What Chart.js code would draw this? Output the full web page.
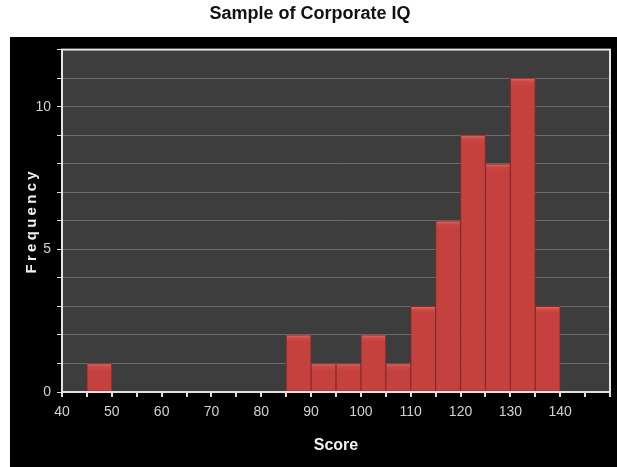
<!DOCTYPE html>
<html>
<head>
<meta charset="utf-8">
<script src="https://cdn.jsdelivr.net/npm/chart.js@4.4.0/dist/chart.umd.min.js"></script>
<style>
  html, body { margin: 0; padding: 0; background: #fff; }
  #wrap { width: 617px; height: 467px; }
</style>
</head>
<body>
<div id="wrap"><canvas id="iq" width="617" height="467"></canvas></div>
<script>
// histogram bins (start of each 5-point bin) and counts
const binStarts = [40, 45, 50, 55, 60, 65, 70, 75, 80, 85, 90, 95, 100, 105, 110, 115, 120, 125, 130, 135];
const counts    = [0, 1, 0, 0, 0, 0, 0, 0, 0, 2, 1, 1, 2, 1, 3, 6, 9, 8, 11, 3];
const binWidth = 5;
const xLabels = [40, 50, 60, 70, 80, 90, 100, 110, 120, 130, 140];
const yLabels = [0, 5, 10];

const points = binStarts.map((s, i) => ({ x: s + binWidth / 2, y: counts[i] }));

// bar fill with a lighter cap at the top of each bar
function barFill(context) {
  const chart = context.chart;
  if (!chart.chartArea || !context.parsed) return '#c6423f';
  const yScale = chart.scales.y;
  const top = yScale.getPixelForValue(context.parsed.y);
  const g = chart.ctx.createLinearGradient(0, top, 0, top + 8);
  g.addColorStop(0, '#e06a65');
  g.addColorStop(0.45, '#cc4744');
  g.addColorStop(1, '#c4413e');
  return g;
}

// black panel, plot background, outline and the spaced y title
const frame = {
  id: 'frame',
  beforeDraw(chart) {
    const { ctx, chartArea: a } = chart;
    ctx.save();
    ctx.fillStyle = '#000';
    ctx.fillRect(10, 37, chart.width - 10, chart.height - 37);
    ctx.fillStyle = '#3d3d3d';
    ctx.fillRect(a.left, a.top, a.right - a.left, a.bottom - a.top);
    ctx.restore();
  },
  afterDraw(chart) {
    const { ctx, chartArea: a } = chart;
    ctx.save();
    ctx.strokeStyle = '#e2e2e2';
    ctx.lineWidth = 2;
    ctx.strokeRect(a.left, a.top, a.right - a.left, a.bottom - a.top);
    ctx.translate(32, (a.top + a.bottom) / 2);
    ctx.rotate(-Math.PI / 2);
    ctx.fillStyle = '#f2f2f2';
    ctx.font = 'bold 15px "Liberation Sans", Arial, sans-serif';
    ctx.letterSpacing = '3.3px';
    ctx.textAlign = 'center';
    ctx.textBaseline = 'middle';
    ctx.fillText('Frequency', 0, 0);
    ctx.restore();
  }
};

new Chart(document.getElementById('iq'), {
  type: 'bar',
  data: {
    datasets: [{
      data: points,
      backgroundColor: barFill,
      borderColor: '#8c2a28',
      borderWidth: 1,
      borderSkipped: false,
      barPercentage: 1,
      categoryPercentage: 1
    }]
  },
  options: {
    responsive: false,
    animation: false,
    layout: { padding: { left: 10, right: 7, top: 0, bottom: 0 } },
    plugins: {
      legend: { display: false },
      tooltip: { enabled: false },
      title: {
        display: true,
        text: 'Sample of Corporate IQ',
        color: '#111',
        font: { family: '"Liberation Sans", Arial, sans-serif', size: 18, weight: 'bold' },
        padding: { top: 3, bottom: 25 }
      }
    },
    scales: {
      x: {
        type: 'linear',
        min: 40,
        max: 150,
        offset: false,
        grid: { offset: false, drawOnChartArea: false, drawTicks: true, tickLength: 5, tickColor: '#dddddd', lineWidth: 2 },
        border: { color: '#e2e2e2', width: 2 },
        ticks: {
          stepSize: 5,
          autoSkip: false,
          maxRotation: 0,
          color: '#d2d2d2',
          padding: 7,
          font: { family: '"Liberation Sans", Arial, sans-serif', size: 14 },
          callback: v => xLabels.includes(v) ? String(v) : ''
        },
        title: {
          display: true,
          text: 'Score',
          color: '#f4f4f4',
          font: { family: '"Liberation Sans", Arial, sans-serif', size: 16, weight: 'bold' },
          padding: { top: 0, bottom: 12 }
        },
        afterFit(scale) { scale.height = 75; }
      },
      y: {
        min: 0,
        max: 12,
        grid: { color: '#6c6c6c', lineWidth: 1, drawTicks: true, tickLength: 5, tickColor: '#dddddd' },
        border: { color: '#e2e2e2', width: 2 },
        ticks: {
          stepSize: 1,
          autoSkip: false,
          color: '#d2d2d2',
          padding: 6,
          font: { family: '"Liberation Sans", Arial, sans-serif', size: 14 },
          callback: v => yLabels.includes(v) ? String(v) : ''
        },
        afterFit(scale) { scale.width = 52; }
      }
    }
  },
  plugins: [frame]
});
</script>
</body>
</html>
